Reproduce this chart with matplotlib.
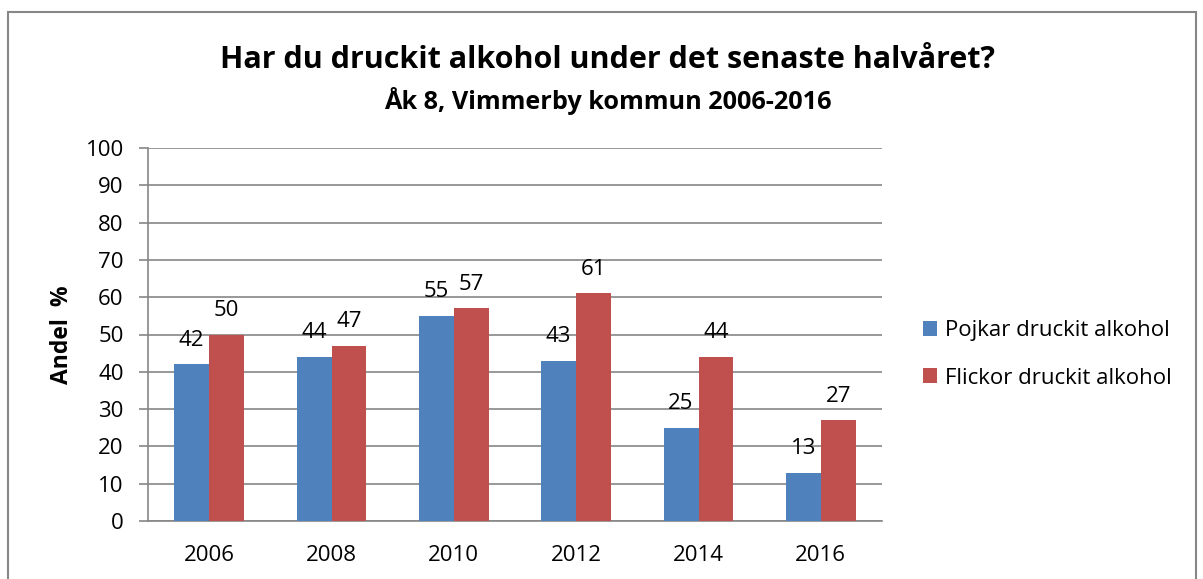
import matplotlib.pyplot as plt
import numpy as np
from matplotlib.patches import Rectangle

# Data
years = ["2006", "2008", "2010", "2012", "2014", "2016"]
pojkar = [42, 44, 55, 43, 25, 13]
flickor = [50, 47, 57, 61, 44, 27]
series_names = ["Pojkar druckit alkohol", "Flickor druckit alkohol"]
y_ticks = [0, 10, 20, 30, 40, 50, 60, 70, 80, 90, 100]

plt.rcParams['font.family'] = ['Open Sans', 'DejaVu Sans']

blue = "#4F81BD"
red = "#C0504D"
grey = "#868686"

fig = plt.figure(figsize=(12.03, 5.79), dpi=100)
ax = fig.add_axes([148 / 1203, 1 - 521 / 579, (882 - 148) / 1203, (521 - 148) / 579])

# outer chart border
fig.patches.append(Rectangle((8 / 1203, -0.05), (1196 - 8) / 1203, 1.05 - 12 / 579,
                             transform=fig.transFigure, fill=False,
                             edgecolor="#878787", linewidth=1.5))

x = np.arange(len(years))
w = 0.286
b1 = ax.bar(x - w / 2, pojkar, w, color=blue, label=series_names[0], zorder=3)
b2 = ax.bar(x + w / 2, flickor, w, color=red, label=series_names[1], zorder=3)

for bars, vals in ((b1, pojkar), (b2, flickor)):
    for rect, v in zip(bars, vals):
        ax.annotate(str(v), (rect.get_x() + rect.get_width() / 2, v),
                    xytext=(0, 13.5), textcoords="offset points",
                    ha="center", va="baseline", fontsize=16)

ax.set_xlim(-0.5, len(years) - 0.5)
ax.set_ylim(0, 100)
ax.set_yticks(y_ticks)
ax.set_xticks(x)
ax.set_xticklabels(years)
ax.tick_params(axis="y", length=6.5, width=1.2, color=grey, pad=11, labelsize=16)
ax.tick_params(axis="x", length=0, pad=17, labelsize=16)
ax.yaxis.grid(True, color=grey, linewidth=1.2, zorder=0)
ax.set_axisbelow(True)
for side in ("top", "right"):
    ax.spines[side].set_visible(False)
ax.spines["left"].set_color(grey)
ax.spines["left"].set_linewidth(1.2)
ax.spines["bottom"].set_color(grey)
ax.spines["bottom"].set_linewidth(1.2)

ax.set_ylabel("Andel  %", fontsize=16.5, fontweight="bold", labelpad=8)

fig.text(608 / 1203, 1 - 60 / 579, "Har du druckit alkohol under det senaste halvåret?",
         ha="center", va="center", fontsize=22, fontweight="bold")
fig.text(608 / 1203, 1 - 101 / 579, "Åk 8, Vimmerby kommun 2006-2016",
         ha="center", va="center", fontsize=18.2, fontweight="bold")

fig.legend(loc="upper left", bbox_to_anchor=(903 / 1203, 1 - 300 / 579),
           frameon=False, fontsize=16, handlelength=0.65, handleheight=0.65,
           handletextpad=0.35, labelspacing=1.2)

fig.savefig("out.png", dpi=100)
